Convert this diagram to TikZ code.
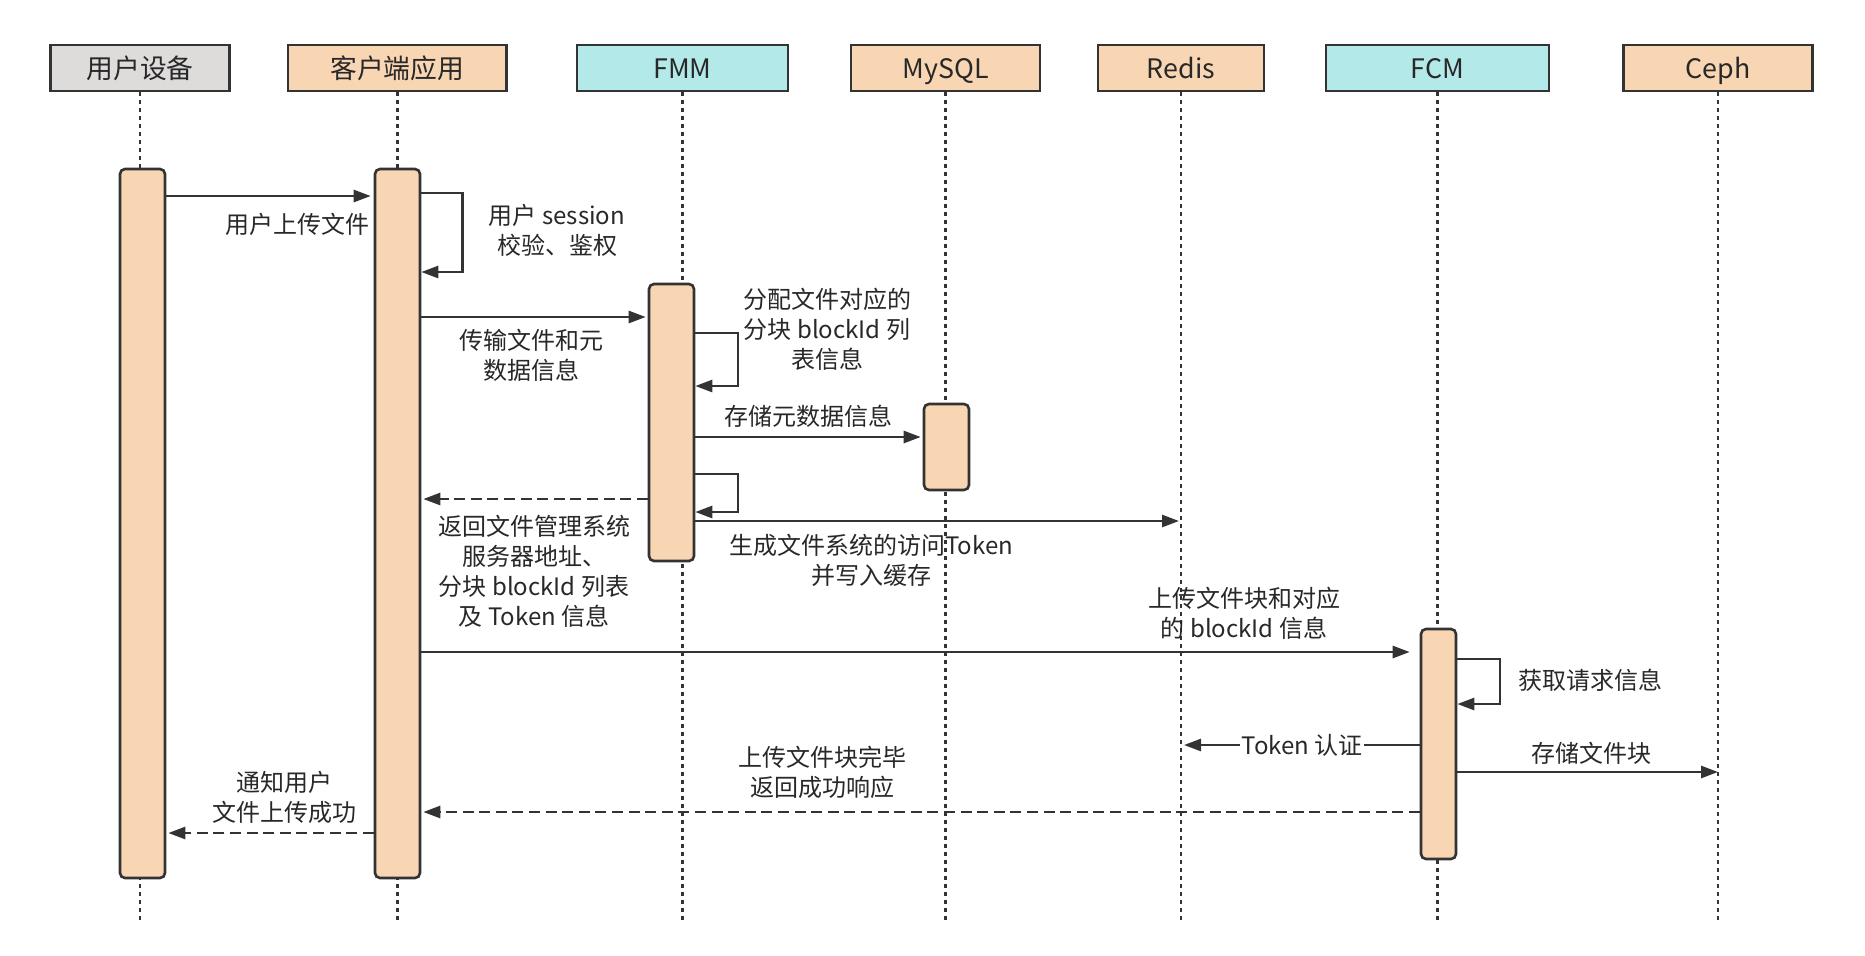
\documentclass[tikz,border=0pt]{standalone}
\usepackage{fontspec}
\setmainfont{Noto Sans CJK SC}
\usetikzlibrary{arrows.meta}
\definecolor{peach}{RGB}{248,214,180}
\definecolor{cyanbox}{RGB}{180,233,233}
\definecolor{graybox}{RGB}{222,219,219}
\definecolor{linec}{RGB}{51,51,51}
\definecolor{textc}{RGB}{40,40,40}
\tikzset{
  hdr/.style={draw=linec, line width=1.4pt, inner sep=0pt, minimum height=23pt,
    text height=12pt, text depth=1.8pt,
    text=textc, font=\fontsize{13.4}{16}\selectfont},
  life/.style={draw=linec, line width=1.3pt, dash pattern=on 1.6pt off 2.4pt},
  bar/.style={draw=linec, fill=peach, line width=1.3pt, rounded corners=2.5pt, inner sep=0pt},
  msg/.style={draw=linec, line width=1.3pt, -{Triangle[length=8.5pt,width=6pt]}},
  ret/.style={msg, dash pattern=on 5.5pt off 2.8pt},
  lbl/.style={inner sep=0pt, align=center, text=textc, font=\fontsize{12}{15}\selectfont}
}
\begin{document}
\begin{tikzpicture}[x=0.5pt,y=-0.5pt]
\useasboundingbox (0,0) rectangle (1865,955);
\fill[white] (0,0) rectangle (1865,955);

% headers
\node[hdr, fill=graybox, minimum width=89.5pt]  (hU)  at (140,68)    {用户设备};
\node[hdr, fill=peach,   minimum width=109.25pt] (hC)  at (397.25,68) {客户端应用};
\node[hdr, fill=cyanbox, minimum width=105.5pt] (hF)  at (682.5,68)  {FMM};
\node[hdr, fill=peach,   minimum width=94.5pt]  (hM)  at (945.5,68)  {MySQL};
\node[hdr, fill=peach,   minimum width=83pt]    (hR)  at (1181,68)   {Redis};
\node[hdr, fill=cyanbox, minimum width=111.5pt] (hFC) at (1437.5,68) {FCM};
\node[hdr, fill=peach,   minimum width=94.75pt] (hCE) at (1718,68)   {Ceph};

% lifelines
\coordinate (eU)  at (140,923);
\coordinate (eC)  at (397.25,923);
\coordinate (eF)  at (682.5,923);
\coordinate (eM)  at (945.5,923);
\coordinate (eR)  at (1181,923);
\coordinate (eFC) at (1437.5,923);
\coordinate (eCE) at (1718,923);
\draw[life] (hU.south) -- (eU);
\draw[life] (hC.south) -- (eC);
\draw[life] (hF.south) -- (eF);
\draw[life] (hM.south) -- (eM);
\draw[life] (hR.south) -- (eR);
\draw[life] (hFC.south) -- (eFC);
\draw[life] (hCE.south) -- (eCE);

% activation bars
\node[bar, minimum width=22.5pt, minimum height=354.5pt] (bU)  at (142.5,523.5) {};
\node[bar, minimum width=22.5pt, minimum height=354.5pt] (bC)  at (397.5,523.5) {};
\node[bar, minimum width=22.5pt, minimum height=138.5pt] (bF)  at (671.5,422.5) {};
\node[bar, minimum width=22.5pt, minimum height=43pt]    (bM)  at (946.5,447)   {};
\node[bar, minimum width=17.5pt, minimum height=115pt]   (bFC) at (1438.5,744)  {};

% message levels
\coordinate (m1)  at (0,196);
\coordinate (lC1) at (0,193);
\coordinate (lC2) at (462.5,272);
\coordinate (m3)  at (0,317);
\coordinate (lF1) at (0,333);
\coordinate (lF2) at (738,386);
\coordinate (m5)  at (0,437);
\coordinate (lF3) at (0,474);
\coordinate (lF4) at (738,512);
\coordinate (m7)  at (0,499);
\coordinate (m8)  at (0,521);
\coordinate (m9)  at (0,652);
\coordinate (lG1) at (0,659);
\coordinate (lG2) at (1500,704);
\coordinate (m11) at (0,745);
\coordinate (m12) at (0,772);
\coordinate (m13) at (0,812);
\coordinate (m14) at (0,833);

% messages
\draw[msg, shorten >=1.5pt] (bU.east |- m1) -- (bC.west |- m1);
\draw[msg] (bC.east |- lC1) -| (lC2) -- (bC.east |- lC2);
\draw[msg, shorten >=1pt] (bC.east |- m3) -- (bF.west |- m3);
\draw[msg] (bF.east |- lF1) -| (lF2) -- (bF.east |- lF2);
\draw[msg, shorten >=1pt] (bF.east |- m5) -- (bM.west |- m5);
\draw[msg] (bF.east |- lF3) -| (lF4) -- (bF.east |- lF4);
\draw[ret, shorten >=1pt] (bF.west |- m7) -- (bC.east |- m7);
\draw[msg, shorten >=1pt] (bF.east |- m8) -- (eR |- m8);
\draw[msg, shorten >=5pt] (bC.east |- m9) -- (bFC.west |- m9);
\draw[msg] (bFC.east |- lG1) -| (lG2) -- (bFC.east |- lG2);
\draw[msg, shorten >=1.5pt] (bFC.west |- m11) -- (eR |- m11);
\draw[msg] (bFC.east |- m12) -- (eCE |- m12);
\draw[ret, shorten >=1pt] (bFC.west |- m13) -- (bC.east |- m13);
\draw[ret, shorten >=1pt] (bC.west |- m14) -- (bU.east |- m14);

% labels
\node[lbl] (t1)  at (297.5,224) {用户上传文件};
\node[lbl] (t2)  at (557,230)   {用户 session\\校验、鉴权};
\node[lbl] (t3)  at (531.5,355.5) {传输文件和元\\数据信息};
\node[lbl] (t4)  at (827,329)   {分配文件对应的\\分块 blockId 列\\表信息};
\node[lbl] (t5)  at (808,416)   {存储元数据信息};
\node[lbl] (t7)  at (534,571.5) {返回文件管理系统\\服务器地址、\\分块 blockId 列表\\及 Token 信息};
\node[lbl] (t8)  at (871,560)   {生成文件系统的访问Token\\并写入缓存};
\node[lbl] (t9)  at (1244,613)  {上传文件块和对应\\的 blockId 信息};
\node[lbl] (t10) at (1590.5,680) {获取请求信息};
\node[lbl, fill=white, inner sep=0.6pt] (t11) at (1302,745) {Token 认证};
\node[lbl] (t12) at (1591,753)  {存储文件块};
\node[lbl] (t13) at (822.5,772.5) {上传文件块完毕\\返回成功响应};
\node[lbl] (t14) at (284,797)   {通知用户\\文件上传成功};
\end{tikzpicture}
\end{document}
